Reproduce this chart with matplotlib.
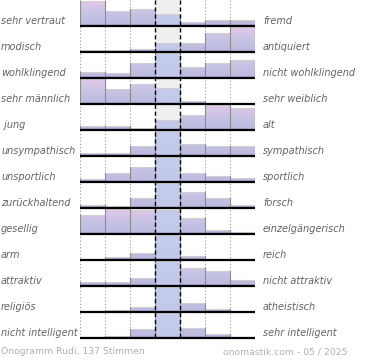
import numpy as np
import matplotlib
matplotlib.use("Agg")
import matplotlib.pyplot as plt
import matplotlib.transforms as mtransforms
from matplotlib.patches import Rectangle
from matplotlib.colors import to_rgb

# Gegensatzpaare (links / rechts)
left_labels = ["sehr vertraut", "modisch", "wohlklingend", "sehr männlich", " jung",
               "unsympathisch", "unsportlich", "zurückhaltend", "gesellig", "arm",
               "attraktiv", "religiös", "nicht intelligent"]
right_labels = ["fremd", "antiquiert", "nicht wohlklingend", "sehr weiblich", "alt",
                "sympathisch", "sportlich", "forsch", "einzelgängerisch", "reich",
                "nicht attraktiv", "atheistisch", "sehr intelligent"]

# Stimmenanteile je Stufe (in %, geschätzt)
votes = [
    [29.6, 17.3, 19.8, 14.8, 4.9, 6.8, 6.8],
    [2.2, 2.2, 4.8, 12.5, 12.5, 27.8, 36.0],
    [6.5, 5.4, 15.2, 26.1, 11.6, 15.2, 19.2],
    [30.4, 17.7, 24.7, 19.6, 3.8, 0.4, 0.4],
    [5.2, 5.2, 2.6, 12.9, 18.9, 30.9, 27.0],
    [4.0, 4.0, 13.9, 34.8, 16.9, 13.9, 13.9],
    [4.6, 12.6, 21.7, 35.4, 12.6, 8.6, 5.0],
    [4.1, 2.0, 13.6, 32.6, 21.3, 12.6, 3.7],
    [16.5, 22.0, 20.8, 21.1, 14.4, 3.7, 2.1],
    [1.2, 6.6, 17.2, 59.1, 9.1, 1.7, 3.2],
    [5.2, 5.2, 9.7, 30.1, 22.0, 18.3, 7.7],
    [0.5, 4.0, 11.5, 60.0, 20.7, 7.5, 2.5],
    [1.2, 4.6, 17.9, 47.8, 19.9, 7.4, 2.0],
]
footer_left = "Onogramm Rudi, 137 Stimmen"
footer_right = "onomastik.com - 05 / 2025"

n_rows = len(votes)
n_bins = len(votes[0])
mid = n_bins // 2
text_col = "#636363"


def gradient(stops, n=60):
    # vertikaler Farbverlauf von unten nach oben
    pos = [p for p, c in stops]
    cols = np.array([to_rgb(c) for p, c in stops])
    t = np.linspace(0, 1, n)
    img = np.stack([np.interp(t, pos, cols[:, k]) for k in range(3)], axis=1)
    return img[:, None, :]


grad_side = gradient([(0, "#9a8cc2"), (0.07, "#bcbade"), (0.4, "#c4c2e4"), (0.9, "#dfc7e6"), (1, "#e0c8e6")])
grad_mid = gradient([(0, "#a2a2d4"), (0.07, "#c2c8ea"), (1, "#c4ccec")])

fig = plt.figure(figsize=(3.7, 3.6), dpi=100)
ax = fig.add_axes([80 / 370, 1 - 345.8 / 360, 175 / 370, 345.8 / 360])
ax.set_xlim(0, n_bins)
ax.set_ylim(13.3, 0)
ax.axis("off")

# Hintergrund der Mittelspalte
ax.add_patch(Rectangle((mid, 0), 1, n_rows, facecolor="#efefef", edgecolor="none", zorder=0))
# gepunktete Linien
for x in [0, 1, 2, 5, 6, 7]:
    ax.plot([x, x], [0, n_rows], color="#999999", lw=0.8, ls=(0, (1, 2)), zorder=1)

for i, row in enumerate(votes):
    base = i + 1
    hs = np.array(row) / max(row) * 0.96
    for j, h in enumerate(hs):
        rect = Rectangle((j, base - h), 1, h, facecolor="none", edgecolor="none", zorder=2)
        ax.add_patch(rect)
        img = ax.imshow(grad_mid if j == mid else grad_side, extent=(j, j + 1, base, base - 1),
                        origin="lower", aspect="auto", zorder=2, interpolation="bilinear")
        img.set_clip_path(rect)
        # obere Kante
        ax.plot([j, j + 1], [base - h, base - h], color="#cfcfcf", lw=0.8, zorder=3)
    # senkrechte Kanten zwischen den Balken
    for j in range(n_bins + 1):
        hl = hs[j - 1] if j > 0 else 0
        hr = hs[j] if j < n_bins else 0
        ax.plot([j, j], [base, base - max(hl, hr)], color="#8c8c8c", lw=0.8, zorder=3)
    ax.plot([0, n_bins], [base, base], color="black", lw=1.6, zorder=5, solid_capstyle="butt")

# gestrichelte Linien um die Mitte
for x in [mid, mid + 1]:
    ax.plot([x, x], [0, n_rows], color="black", lw=1.0, ls=(0, (3, 2)), zorder=4)

trans = mtransforms.blended_transform_factory(fig.transFigure, ax.transData)
for i in range(n_rows):
    y = i + 1 - 0.2
    ax.text(1 / 370, y, left_labels[i], transform=trans, ha="left", va="center",
            fontsize=7.05, style="italic", color=text_col)
    ax.text(263 / 370, y, right_labels[i], transform=trans, ha="left", va="center",
            fontsize=7.05, style="italic", color=text_col)

fig.text(1 / 370, 1 - 352 / 360, footer_left, ha="left", va="center", fontsize=6.7, color="#b0b0b0")
fig.text(347 / 370, 1 - 352 / 360, footer_right, ha="right", va="center", fontsize=6.7, color="#b0b0b0")

fig.savefig("out.png", dpi=100)
